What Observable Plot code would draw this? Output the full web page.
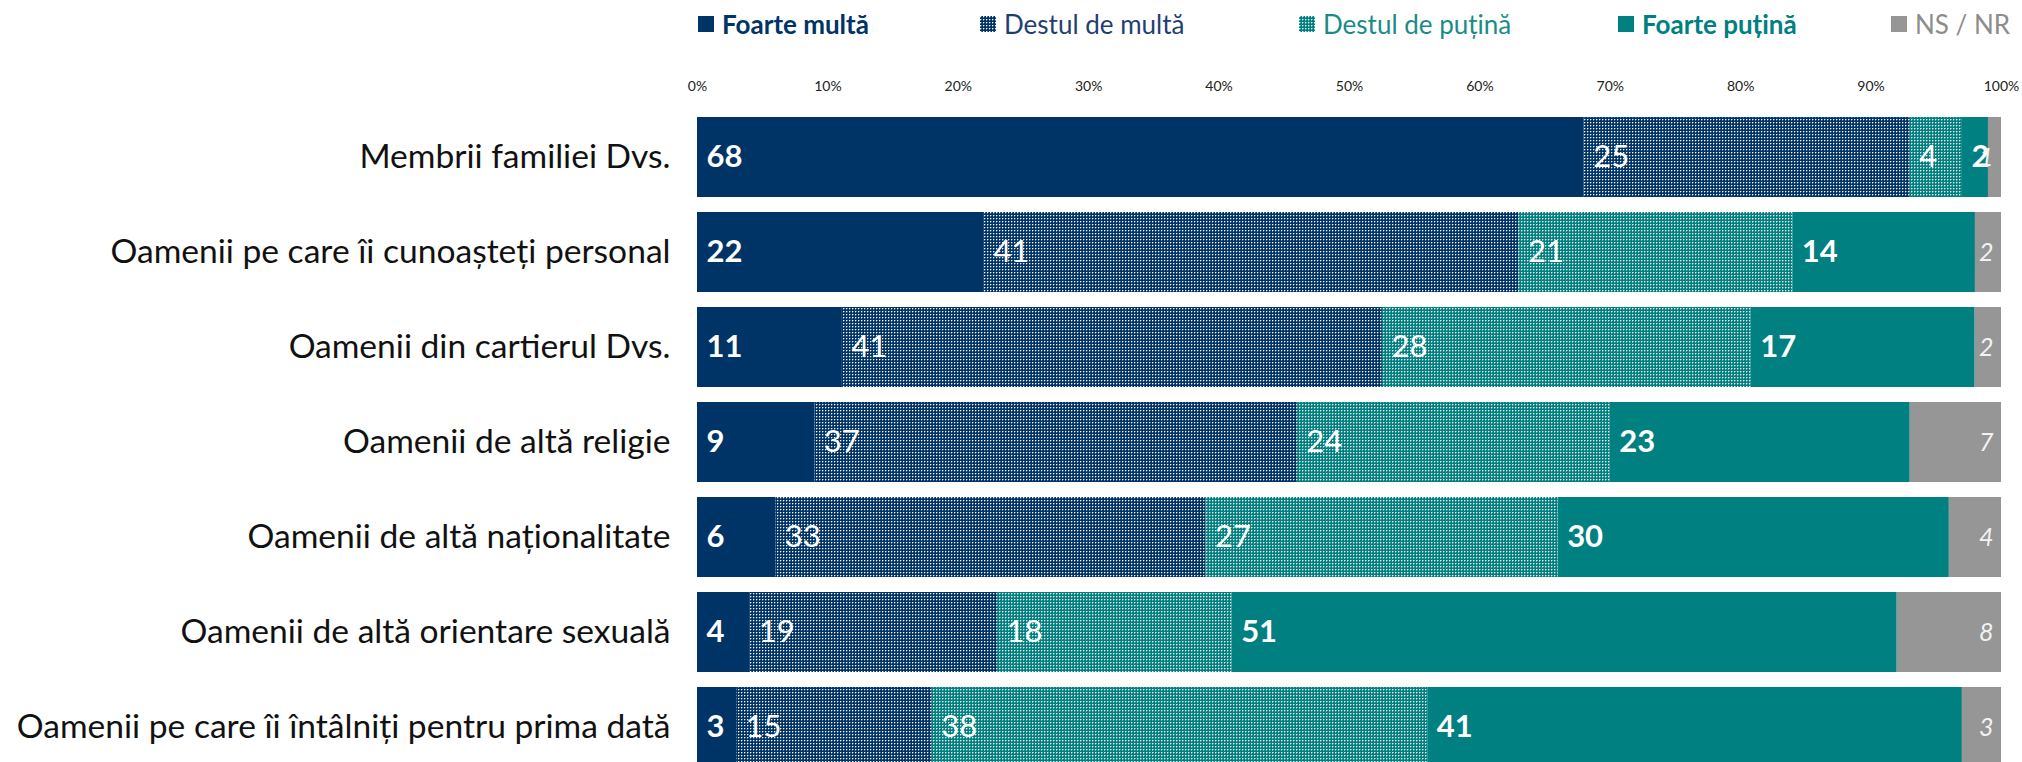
<!DOCTYPE html>
<html><head><meta charset="utf-8">
<script src="https://cdn.jsdelivr.net/npm/d3@7"></script>
<script src="https://cdn.jsdelivr.net/npm/@observablehq/plot@0.6"></script>
<style>
body{margin:0;background:#fff;font-family:Lato, sans-serif;overflow:hidden;}
#legend{position:relative;height:50px;width:2022px;}
.item{position:absolute;top:0;height:48px;display:flex;align-items:center;font-size:26px;white-space:nowrap}
.item svg{margin-right:8px}
#chart svg{display:block}
</style></head><body>
<svg width="0" height="0" style="position:absolute">
<defs>
<pattern id="patNavy" width="3" height="3" patternUnits="userSpaceOnUse">
<rect width="3" height="3" fill="#003366"/>
<rect x="0" y="0" width="1" height="1" fill="#ffffff"/>
<rect x="1" y="0" width="1" height="1" fill="#ffffff" fill-opacity="0.35"/>
<rect x="0" y="1" width="1" height="1" fill="#ffffff" fill-opacity="0.35"/>
</pattern>
<pattern id="patTeal" width="3" height="3" patternUnits="userSpaceOnUse">
<rect width="3" height="3" fill="#008080"/>
<rect x="0" y="0" width="1" height="1" fill="#ffffff"/>
<rect x="1" y="0" width="1" height="1" fill="#ffffff" fill-opacity="0.4"/>
<rect x="0" y="1" width="1" height="1" fill="#ffffff" fill-opacity="0.4"/>
</pattern>
</defs></svg>
<div id="legend"></div>
<div id="chart"></div>
<script>
// ---- data ----
const categories = [
  "Membrii familiei Dvs.",
  "Oamenii pe care îi cunoașteți personal",
  "Oamenii din cartierul Dvs.",
  "Oamenii de altă religie",
  "Oamenii de altă naționalitate",
  "Oamenii de altă orientare sexuală",
  "Oamenii pe care îi întâlniți pentru prima dată"
];
const seriesNames = ["Foarte multă", "Destul de multă", "Destul de puțină", "Foarte puțină", "NS / NR"];
const foarteMulta   = [68, 22, 11,  9,  6,  4,  3];
const destulMulta   = [25, 41, 41, 37, 33, 19, 15];
const destulPutina  = [ 4, 21, 28, 24, 27, 18, 38];
const foartePutina  = [ 2, 14, 17, 23, 30, 51, 41];
const nsNr          = [ 1,  2,  2,  7,  4,  8,  3];
const xTicks = [0, 0.1, 0.2, 0.3, 0.4, 0.5, 0.6, 0.7, 0.8, 0.9, 1];

// ---- styles ----
const fills = ["#003366", "url(#patNavy)", "url(#patTeal)", "#008080", "#969696"];
const legendText = ["#003366", "#1f3f73", "#1a8c86", "#008080", "#8c8c8c"];
const legendWeight = ["bold", "normal", "normal", "bold", "normal"];
const legendLeft = [698, 980, 1299, 1618, 1891];

const seriesValues = [foarteMulta, destulMulta, destulPutina, foartePutina, nsNr];
const rows = [];
categories.forEach((c, i) => seriesNames.forEach((s, j) => rows.push({cat: c, series: s, value: seriesValues[j][i]})));

// legend
const leg = document.getElementById("legend");
seriesNames.forEach((s, j) => {
  const d = document.createElement("div");
  d.className = "item";
  d.style.left = legendLeft[j] + "px";
  d.style.color = legendText[j];
  d.style.fontWeight = legendWeight[j];
  d.innerHTML = `<svg width="16" height="16"><rect width="16" height="16" fill="${fills[j]}"/></svg><span>${s}</span>`;
  leg.appendChild(d);
});

const st = {x: "value", y: "cat", z: "series", order: seriesNames, offset: "normalize"};
const isS = (k) => (d) => d.series === seriesNames[k] ? d.value : null;

const chart = Plot.plot({
  width: 2022, height: 732,
  marginLeft: 697, marginRight: 21, marginTop: 51, marginBottom: 0,
  style: {fontFamily: "Lato, sans-serif", background: "white", overflow: "visible"},
  x: {domain: [0, 1], axis: null, label: null},
  y: {domain: categories, padding: 0.16, axis: null, label: null},
  color: {domain: seriesNames, range: fills},
  marks: [
    Plot.barX(rows, Plot.stackX({...st, fill: "series"})),
    Plot.axisX({anchor: "top", ticks: xTicks, tickFormat: d3.format(".0%"), tickSize: 0, tickPadding: 11, fontSize: 14, fill: "#222", label: null}),
    Plot.axisY({anchor: "left", tickSize: 0, tickPadding: 27, fontSize: 33.6, fill: "#111", label: null}),
    Plot.text(rows, Plot.stackX1({...st, text: (d) => (d.series === seriesNames[0] || d.series === seriesNames[3]) ? d.value : null,
      textAnchor: "start", dx: 9, fill: "white", fontWeight: "bold", fontSize: 31})),
    Plot.text(rows, Plot.stackX1({...st, text: (d) => (d.series === seriesNames[1] || d.series === seriesNames[2]) ? d.value : null,
      textAnchor: "start", dx: 9, fill: "white", fontSize: 31})),
    Plot.text(rows, Plot.stackX2({...st, text: isS(4),
      textAnchor: "end", dx: -8, fill: "#f2f2f2", fontStyle: "italic", fontSize: 25}))
  ]
});
document.getElementById("chart").appendChild(chart);
</script>
</body></html>
